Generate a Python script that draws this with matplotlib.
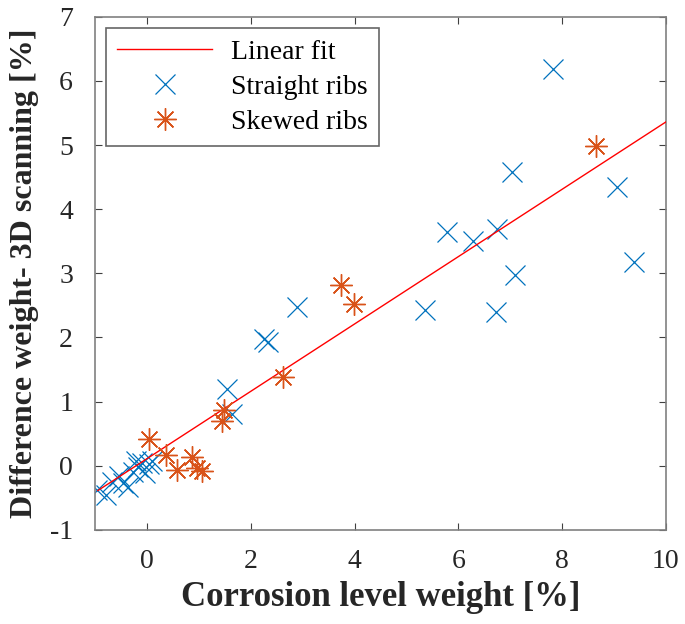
import numpy as np
import matplotlib.pyplot as plt

plt.rcParams["font.family"] = ["Liberation Serif", "DejaVu Serif"]
plt.rcParams["axes.unicode_minus"] = False

# straight ribs (blue x)
straight_x = [-0.96, -0.80, -0.67, -0.55, -0.46, -0.36, -0.28, -0.22, -0.17, -0.10, -0.04, 0.03, 0.10,
              1.55, 1.63, 2.25, 2.33, 2.89, 5.35, 5.79, 6.29, 6.72, 6.74, 7.03, 7.09, 7.83, 9.06, 9.39]
straight_y = [-0.38, -0.46, -0.25, -0.16, -0.27, -0.33, -0.10, 0.08, -0.02, 0.04, -0.12, 0.02, 0.08,
              1.19, 0.80, 1.98, 1.93, 2.47, 2.42, 3.64, 3.50, 2.40, 3.69, 4.58, 2.98, 6.19, 4.34, 3.17]

# skewed ribs (orange asterisk)
skewed_x = [0.03, 0.37, 0.57, 0.87, 0.97, 1.05, 1.45, 1.48, 2.62, 3.74, 3.99, 8.65]
skewed_y = [0.41, 0.17, -0.06, 0.14, -0.03, -0.09, 0.69, 0.87, 1.39, 2.81, 2.52, 4.98]

# linear fit
fit_slope = 0.525
fit_intercept = 0.11
fit_range = [-0.95, 10.0]

fig = plt.figure(figsize=(6.85, 6.24), dpi=100)
ax = fig.add_axes([0.139, 0.151, 0.833, 0.822])

fx = np.array(fit_range)
ax.plot(fx, fit_slope * fx + fit_intercept, color="#FF0000", lw=1.0, label="Linear fit", zorder=3)
ax.plot(straight_x, straight_y, ls="none", marker="x", ms=14, mew=0.9, color="#0072BD",
        label="Straight ribs", zorder=2)
ax.plot(skewed_x, skewed_y, ls="none", marker=(8, 2, 0), ms=16, mew=1.0, color="#D95319",
        label="Skewed ribs", zorder=4)

ax.set_xlim(-1, 10)
ax.set_ylim(-1, 7)
ax.set_xticks([0, 2, 4, 6, 8, 10])
ax.set_yticks(range(-1, 8))
ax.tick_params(direction="in", top=True, right=True, labelsize=20, length=5, color="#404040",
               labelcolor="#262626")
ax.tick_params(axis="x", pad=14)
ax.tick_params(axis="y", pad=16)
for s in ax.spines.values():
    s.set_color("#808080")
    s.set_linewidth(1.2)

ax.set_xlabel("Corrosion level weight [%]", fontsize=25, fontweight="bold", color="#262626", labelpad=5)
ax.set_ylabel("Difference weight- 3D scanning [%]", fontsize=23, fontweight="bold", color="#262626", labelpad=8)

leg = ax.legend(loc="upper left", fontsize=20, frameon=True, fancybox=False, edgecolor="#404040",
                borderaxespad=0.4, handlelength=3.4, labelspacing=0.35, borderpad=0.4, handletextpad=0.7)
leg.get_frame().set_linewidth(1.2)

fig.savefig("out.png", dpi=100)
